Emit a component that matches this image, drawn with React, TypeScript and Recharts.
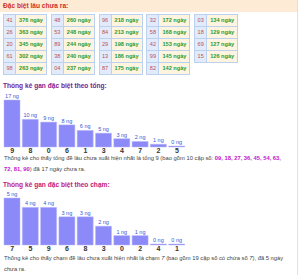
import React from "react";
import { BarChart, Bar, XAxis, YAxis, LabelList } from "recharts";

// bảng lâu chưa ra
const lauNumbers = [
  ["41", "26", "20", "61", "98"],
  ["48", "53", "89", "38", "04"],
  ["96", "84", "29", "13", "87"],
  ["32", "58", "42", "99", "82"],
  ["03", "18", "69", "15"],
];
const lauDays = [
  [376, 363, 345, 302, 263],
  [260, 248, 244, 240, 237],
  [218, 213, 198, 186, 175],
  [172, 168, 153, 145, 142],
  [134, 129, 127, 126],
];

// theo tổng
const tongCats = ["9", "8", "0", "6", "1", "3", "4", "7", "2", "5"];
const tongValues = [17, 10, 9, 8, 6, 5, 3, 2, 1, 0];
const tongPairs = ["09", "18", "27", "36", "45", "54", "63", "72", "81", "90"];

// theo chạm
const chamCats = ["7", "5", "9", "6", "8", "3", "0", "2", "4", "1"];
const chamValues = [5, 4, 4, 3, 3, 2, 1, 1, 0, 0];

const FONT = "'Liberation Sans', Arial, sans-serif";
const BAR = "#8c89f8";

const ngLabel = (p: any) => (
  <text x={p.x + p.width / 2} y={p.y - 2} textAnchor="middle" fontSize={5.5} fill="#3d56d6" fontFamily={FONT}>
    {p.value} ng
  </text>
);

const GanChart: React.FC<{ cats: string[]; values: number[] }> = ({ cats, values }) => {
  const data = cats.map((c, i) => ({ name: c, v: values[i] }));
  return (
    <BarChart width={190} height={67} data={data} margin={{ top: 10, right: 4, left: 3, bottom: 0 }} barCategoryGap={1}>
      <XAxis
        dataKey="name"
        height={10}
        axisLine={false}
        tickLine={false}
        tickSize={0}
        tickMargin={1}
        interval={0}
        tick={{ fontSize: 7, fontWeight: "bold", fill: "#333", fontFamily: FONT }}
      />
      <YAxis hide domain={[0, "dataMax"]} />
      <Bar dataKey="v" fill={BAR} stroke="#b9b7fb" strokeWidth={0.5} minPointSize={1} isAnimationActive={false}>
        <LabelList dataKey="v" content={ngLabel} />
      </Bar>
    </BarChart>
  );
};

const App: React.FC = () => {
  const text: React.CSSProperties = { position: "absolute", left: 4, fontSize: 5.8, color: "#444", whiteSpace: "nowrap", lineHeight: "10.5px", fontFamily: FONT };
  const mag: React.CSSProperties = { color: "#c312c9", fontWeight: "bold" };
  const title: React.CSSProperties = { position: "absolute", left: 3, fontSize: 6.6, fontWeight: "bold", lineHeight: "10px" };
  return (
    <div style={{ position: "absolute", left: 0, top: 0, width: 300, height: 275, background: "#fff", fontFamily: FONT, overflow: "hidden" }}>
      <div style={{ position: "absolute", left: 297, top: 0, width: 1, height: 275, background: "#d6e2f5" }} />
      <div style={{ position: "absolute", left: 0, top: 0, width: 297, height: 12, background: "#fdebd5" }} />
      <div style={{ ...title, top: 1, color: "#d0302a" }}>Đặc biệt lâu chưa ra:</div>

      {lauNumbers.map((col, g) => (
        <div key={g} style={{ position: "absolute", left: 3 + g * 47.8, top: 14 }}>
          {col.map((n, r) => (
            <div key={r} style={{ display: "flex", height: 12, borderTop: r === 0 ? "1px solid #bcd0f0" : "none" }}>
              <div style={{ width: 11, height: 11, background: "#e1ebfc", border: "1px solid #bcd0f0", borderTop: "none", color: "#c0504d", fontSize: 5.6, textAlign: "center", lineHeight: "11px" }}>
                {n}
              </div>
              <div style={{ width: 30, height: 11, background: "#fef4df", borderRight: "1px solid #bcd0f0", borderBottom: "1px solid #bcd0f0", color: "#2d9a2d", fontSize: 5.6, fontWeight: "bold", textAlign: "center", lineHeight: "11px" }}>
                {lauDays[g][r]} ngày
              </div>
            </div>
          ))}
        </div>
      ))}

      <div style={{ ...title, top: 81, color: "#7a1b8f" }}>Thống kê gan đặc biệt theo tổng:</div>
      <div style={{ position: "absolute", left: 0, top: 90 }}>
        <GanChart cats={tongCats} values={tongValues} />
      </div>
      <div style={{ ...text, top: 153 }}>
        Thống kê cho thấy tổng đề lâu chưa xuất hiện nhất là tổng {tongCats[0]} (bao gồm {tongPairs.length} cặp số:{" "}
        <span style={mag}>{tongPairs.slice(0, 7).join(", ")},</span>
        <br />
        <span style={mag}>{tongPairs.slice(7).join(", ")}</span>) đã {tongValues[0]} ngày chưa ra.
      </div>

      <div style={{ ...title, top: 180, color: "#c2187a" }}>Thống kê gan đặc biệt theo chạm:</div>
      <div style={{ position: "absolute", left: 0, top: 188 }}>
        <GanChart cats={chamCats} values={chamValues} />
      </div>
      <div style={{ ...text, top: 253 }}>
        Thống kê cho thấy chạm đề lâu chưa xuất hiện nhất là chạm <i>{chamCats[0]}</i> (bao gồm 19 cặp số có chứa số <i>{chamCats[0]}</i>), đã {chamValues[0]} ngày
        <br />
        chưa ra.
      </div>
    </div>
  );
};

export default App;
